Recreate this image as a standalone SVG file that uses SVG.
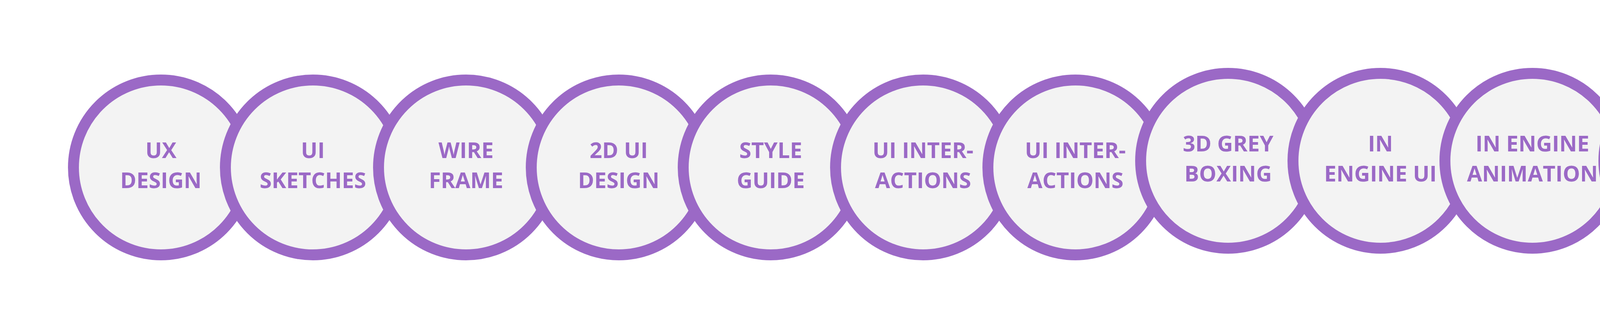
<svg xmlns="http://www.w3.org/2000/svg" width="4744" height="843" viewBox="0 0 4744 843">
<style>
.ring{fill:#f3f3f3;stroke:#9b69c6;stroke-width:28}
.lbl{font-family:"Open Sans","Liberation Sans",sans-serif;font-weight:700;font-size:56px;fill:#9b69c6;text-anchor:middle}
</style>
<rect width="4744" height="843" fill="#ffffff"/>
<g id="connectors"></g>
<g id="n1"><circle class="ring" cx="412" cy="429" r="224"/><text class="lbl" x="412" y="405">UX</text><text class="lbl" x="412" y="482">DESIGN</text></g>
<g id="n2"><circle class="ring" cx="801" cy="429" r="224"/><text class="lbl" x="801" y="405">UI</text><text class="lbl" x="801" y="482">SKETCHES</text></g>
<g id="n3"><circle class="ring" cx="1193" cy="429" r="224"/><text class="lbl" x="1193" y="405">WIRE</text><text class="lbl" x="1193" y="482">FRAME</text></g>
<g id="n4"><circle class="ring" cx="1584" cy="429" r="224"/><text class="lbl" x="1584" y="405">2D UI</text><text class="lbl" x="1584" y="482">DESIGN</text></g>
<g id="n5"><circle class="ring" cx="1973" cy="429" r="224"/><text class="lbl" x="1973" y="405">STYLE</text><text class="lbl" x="1973" y="482">GUIDE</text></g>
<g id="n6"><circle class="ring" cx="2363" cy="429" r="224"/><text class="lbl" x="2363" y="405">UI INTER-</text><text class="lbl" x="2363" y="482">ACTIONS</text></g>
<g id="n7"><circle class="ring" cx="2753" cy="429" r="224"/><text class="lbl" x="2753" y="405">UI INTER-</text><text class="lbl" x="2753" y="482">ACTIONS</text></g>
<g id="n8"><circle class="ring" cx="3144" cy="412" r="224"/><text class="lbl" x="3144" y="388">3D GREY</text><text class="lbl" x="3144" y="465">BOXING</text></g>
<g id="n9"><circle class="ring" cx="3534" cy="412" r="224"/><text class="lbl" x="3534" y="388">IN</text><text class="lbl" x="3534" y="465">ENGINE UI</text></g>
<g id="n10"><circle class="ring" cx="3923" cy="412" r="224"/><text class="lbl" x="3923" y="388">IN ENGINE</text><text class="lbl" x="3923" y="465">ANIMATION</text></g>
<g id="n11"><circle class="ring" cx="4330" cy="412" r="224"/><text class="lbl" x="4330" y="350">IN ENGINE</text><text class="lbl" x="4330" y="427">INTERACTIO</text><text class="lbl" x="4330" y="503">N</text></g>
</svg>
